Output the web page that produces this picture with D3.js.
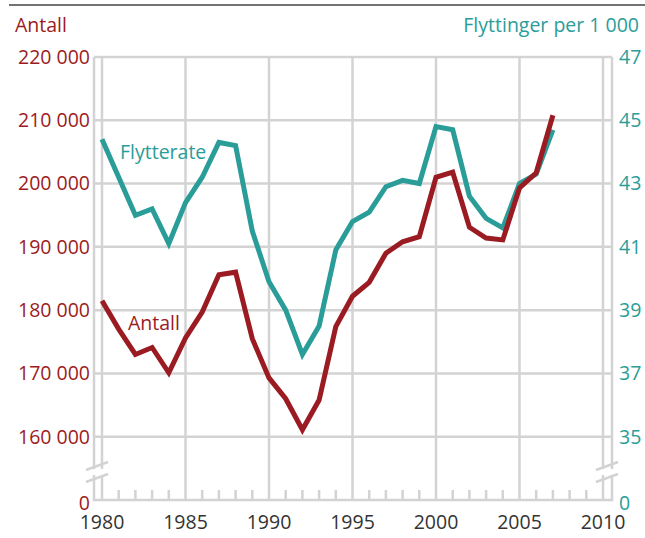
<!DOCTYPE html>
<html>
<head>
<meta charset="utf-8">
<script src="https://cdn.jsdelivr.net/npm/d3@7"></script>
<style>
  body { margin: 0; background: #fff; }
  text { font-family: "Open Sans", "Noto Sans", sans-serif; }
</style>
</head>
<body>
<div class="chart"></div>
<script>
const svgWidth = 645;
const svgHeight = 538;

// data
const years = d3.range(1980, 2008);
const antall = [181500, 177000, 173000, 174100, 170100, 175600, 179700, 185600, 186000, 175500,
    169300, 166000, 161100, 165800, 177400, 182200, 184400, 189000, 190800, 191600,
    201000, 201800, 193100, 191400, 191100, 199300, 201700, 210800];
const flytterate = [44.4, 43.2, 42.0, 42.2, 41.1, 42.4, 43.2, 44.3, 44.2, 41.5,
    39.9, 39.0, 37.6, 38.5, 40.9, 41.8, 42.1, 42.9, 43.1, 43.0,
    44.8, 44.7, 42.6, 41.9, 41.6, 43.0, 43.3, 44.7];
const leftTicks = [0, 160000, 170000, 180000, 190000, 200000, 210000, 220000];
const rightTicks = [0, 35, 37, 39, 41, 43, 45, 47];
const yearTicks = [1980, 1985, 1990, 1995, 2000, 2005, 2010];

const red = "#9b1b22";
const teal = "#2a9d99";
const grid = "#d3d3d3";
const fontSize = 19.5;

const svg = d3.select(".chart")
    .append("svg")
    .attr("width", svgWidth)
    .attr("height", svgHeight);

const frameLeft = 94, frameRight = 612, frameTop = 57, frameBottom = 500;

const x = d3.scaleLinear().domain([1980, 2010]).range([102, 603]);
// broken axis: 0 sits at the bottom, the rest is linear from 150 000
const yLeft = d3.scaleLinear().domain([0, 150000, 220000]).range([frameBottom, frameBottom, frameTop]);
const yRight = d3.scaleLinear().domain([0, 33, 47]).range([frameBottom, frameBottom, frameTop]);

// top rule
svg.append("line")
    .attr("x1", 9).attr("x2", svgWidth)
    .attr("y1", 5).attr("y2", 5)
    .attr("stroke", "#444").attr("stroke-width", 1.5);

// gridlines
svg.append("g").selectAll("line")
    .data(leftTicks.filter(d => d > 0))
    .join("line")
    .attr("x1", frameLeft).attr("x2", frameRight)
    .attr("y1", d => yLeft(d)).attr("y2", d => yLeft(d))
    .attr("stroke", grid).attr("stroke-width", 2.5);

svg.append("g").selectAll("line")
    .data(yearTicks)
    .join("line")
    .attr("x1", d => x(d)).attr("x2", d => x(d))
    .attr("y1", frameTop).attr("y2", frameBottom)
    .attr("stroke", grid).attr("stroke-width", 2.5);

// minor year ticks
svg.append("g").selectAll("line")
    .data(d3.range(1980, 2011).filter(d => d % 5 !== 0))
    .join("line")
    .attr("x1", d => x(d)).attr("x2", d => x(d))
    .attr("y1", frameBottom).attr("y2", frameBottom - 10)
    .attr("stroke", grid).attr("stroke-width", 2.5);

// frame
svg.append("path")
    .attr("d", `M${frameLeft},${frameTop}V${frameBottom}H${frameRight}V${frameTop}`)
    .attr("fill", "none")
    .attr("stroke", grid).attr("stroke-width", 2.5);

// axis breaks
function axisBreak(cx) {
    const g = svg.append("g");
    g.append("rect")
        .attr("x", cx - 12).attr("y", 469).attr("width", 24).attr("height", 6)
        .attr("fill", "#fff");
    [0, 12].forEach(off => {
        g.append("line")
            .attr("x1", cx - 11).attr("x2", cx + 11)
            .attr("y1", 470 + off).attr("y2", 462 + off)
            .attr("stroke", grid).attr("stroke-width", 2.5);
    });
}
axisBreak(97);
axisBreak(607);

// tick labels
svg.append("g").selectAll("text")
    .data(leftTicks)
    .join("text")
    .attr("x", 90)
    .attr("y", d => yLeft(d))
    .attr("dy", d => d === 0 ? "0.5em" : "0.35em")
    .attr("text-anchor", "end")
    .attr("fill", red)
    .attr("font-size", fontSize)
    .text(d => d3.format(",")(d).replace(/,/g, " "));

svg.append("g").selectAll("text")
    .data(rightTicks)
    .join("text")
    .attr("x", 619)
    .attr("y", d => yRight(d))
    .attr("dy", d => d === 0 ? "0.5em" : "0.35em")
    .attr("fill", teal)
    .attr("font-size", fontSize)
    .text(d => d);

svg.append("g").selectAll("text")
    .data(yearTicks)
    .join("text")
    .attr("x", d => x(d))
    .attr("y", 529)
    .attr("text-anchor", "middle")
    .attr("fill", "#333")
    .attr("font-size", fontSize)
    .text(d => d);

// axis titles
svg.append("text")
    .attr("x", 15).attr("y", 32)
    .attr("fill", red).attr("font-size", fontSize)
    .text("Antall");
svg.append("text")
    .attr("x", 639).attr("y", 32)
    .attr("text-anchor", "end")
    .attr("fill", teal).attr("font-size", fontSize)
    .text("Flyttinger per 1 000");

// lines
const lineLeft = d3.line().x((d, i) => x(years[i])).y(d => yLeft(d));
const lineRight = d3.line().x((d, i) => x(years[i])).y(d => yRight(d));

svg.append("path")
    .datum(flytterate)
    .attr("d", lineRight)
    .attr("fill", "none")
    .attr("stroke", teal).attr("stroke-width", 5)
    .attr("stroke-linejoin", "miter");

svg.append("path")
    .datum(antall)
    .attr("d", lineLeft)
    .attr("fill", "none")
    .attr("stroke", red).attr("stroke-width", 5)
    .attr("stroke-linejoin", "miter");

// line labels
svg.append("text")
    .attr("x", 120).attr("y", 159)
    .attr("fill", teal).attr("font-size", fontSize)
    .text("Flytterate");
svg.append("text")
    .attr("x", 128).attr("y", 330)
    .attr("fill", red).attr("font-size", fontSize)
    .text("Antall");
</script>
</body>
</html>
